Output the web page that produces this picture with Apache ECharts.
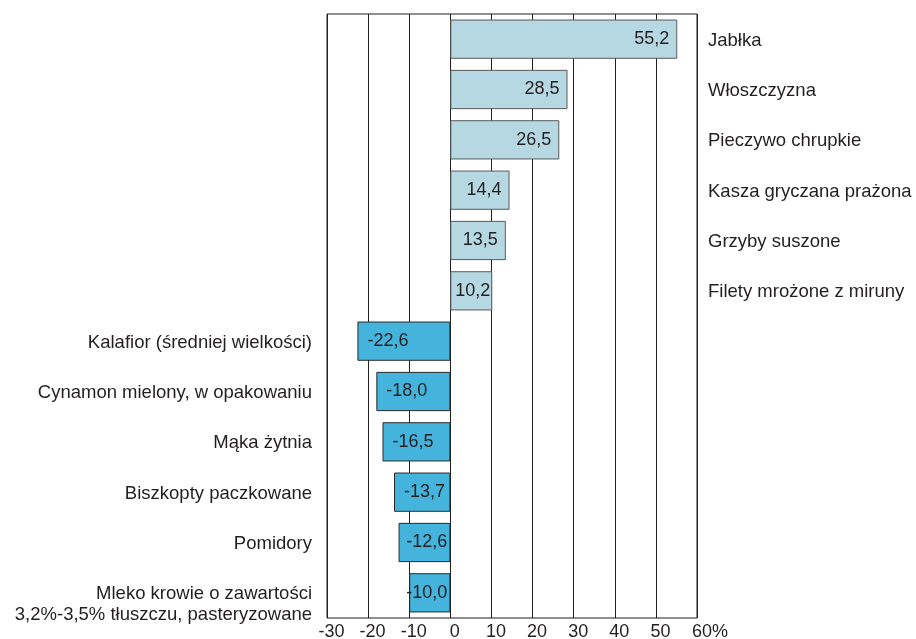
<!DOCTYPE html>
<html>
<head>
<meta charset="utf-8">
<script src="https://cdn.jsdelivr.net/npm/echarts@6/dist/echarts.min.js"></script>
<style>
  html, body { margin: 0; padding: 0; background: #fff; }
  #chart { width: 916px; height: 639px; }
</style>
</head>
<body>
<div id="chart"></div>
<script>
// kategorie od góry do dołu
var categories = [
  'Jabłka',
  'Włoszczyzna',
  'Pieczywo chrupkie',
  'Kasza gryczana prażona',
  'Grzyby suszone',
  'Filety mrożone z miruny',
  'Kalafior (średniej wielkości)',
  'Cynamon mielony, w opakowaniu',
  'Mąka żytnia',
  'Biszkopty paczkowane',
  'Pomidory',
  'Mleko krowie o zawartości\n3,2%-3,5% tłuszczu, pasteryzowane'
];
var values = [55.2, 28.5, 26.5, 14.4, 13.5, 10.2, -22.6, -18.0, -16.5, -13.7, -12.6, -10.0];
var xTicks = [-30, -20, -10, 0, 10, 20, 30, 40, 50, 60];

var FONT = '"Liberation Sans", Arial, sans-serif';
var TXT = '#231f20';
var GRID_L = 327, GRID_R = 219;
var PX_PER_UNIT = (916 - GRID_L - GRID_R) / (xTicks[xTicks.length - 1] - xTicks[0]);

function fmt(v) { return v.toFixed(1).replace('.', ','); }

var chart = echarts.init(document.getElementById('chart'));

// szerokość tekstu etykiety, żeby nie wychodziła poza słupek od strony zera
var ctx = document.createElement('canvas').getContext('2d');
ctx.font = '18px ' + FONT;
function measure(s) { return ctx.measureText(s).width; }

// etykieta kategorii, wielowierszowa zaczyna się od pustej linii (przesunięcie w dół)
function catLabel(v) {
  var lines = v.split('\n');
  if (lines.length > 1) lines.unshift(' ');
  return lines.map(function (l) { return '{c|' + l + '}'; }).join('\n');
}
var catRich = {
  c: { fontSize: 18.5, fontFamily: FONT, color: TXT, lineHeight: 21, padding: [3, 0, 0, 0] }
};

var option = {
  animation: false,
  backgroundColor: '#fff',
  grid: {
    left: GRID_L, right: GRID_R, top: 14, bottom: 21,
    outerBoundsMode: 'none',
    show: true, borderColor: '#231f20', borderWidth: 1
  },
  xAxis: {
    type: 'value',
    min: xTicks[0],
    max: xTicks[xTicks.length - 1],
    interval: 10,
    axisLine: { show: false },
    axisTick: { show: false },
    splitLine: { show: true, lineStyle: { color: '#231f20', width: 1 } },
    axisLabel: {
      margin: 5,
      fontSize: 18,
      fontFamily: FONT,
      color: TXT,
      formatter: function (v) { return v === 60 ? '{p|60%}' : '{n|' + v + '}'; },
      rich: {
        n: { fontSize: 18, fontFamily: FONT, color: TXT, padding: [0, 0, 0, 9] },
        p: { fontSize: 18, fontFamily: FONT, color: TXT, padding: [0, 0, 0, 26] }
      }
    }
  },
  yAxis: [
    {
      type: 'category',
      inverse: true,
      position: 'left',
      data: categories,
      axisLine: { show: false },
      axisTick: { show: false },
      axisLabel: {
        interval: 0,
        hideOverlap: false,
        margin: 15,
        formatter: function (v, i) { return values[i] < 0 ? catLabel(v) : ''; },
        rich: catRich
      }
    },
    {
      type: 'category',
      inverse: true,
      position: 'right',
      data: categories,
      axisLine: { show: false },
      axisTick: { show: false },
      axisLabel: {
        interval: 0,
        hideOverlap: false,
        margin: 11,
        align: 'left',
        formatter: function (v, i) { return values[i] > 0 ? catLabel(v) : ''; },
        rich: catRich
      }
    }
  ],
  series: [
    {
      type: 'bar',
      yAxisIndex: 0,
      barCategoryGap: '22%',
      data: values.map(function (v) {
        var pos = v >= 0;
        var barPx = Math.abs(v) * PX_PER_UNIT;
        var w = measure(fmt(v));
        var position, distance;
        if (pos) {
          if (barPx - 8 - w < 5) { position = 'insideLeft'; distance = 5; }
          else { position = 'insideRight'; distance = 8; }
        } else {
          if (barPx - 10 - w < 3) { position = 'insideRight'; distance = 3; }
          else { position = 'insideLeft'; distance = 10; }
        }
        return {
          value: v,
          itemStyle: {
            color: pos ? '#b5d8e3' : '#44b4dc',
            borderColor: pos ? '#5a5a5a' : '#2a2a2a',
            borderWidth: 1
          },
          label: { position: position, distance: distance }
        };
      }),
      label: {
        show: true,
        fontSize: 18,
        fontFamily: FONT,
        color: TXT,
        formatter: function (p) { return fmt(p.value); }
      }
    }
  ]
};

chart.setOption(option);
</script>
</body>
</html>
